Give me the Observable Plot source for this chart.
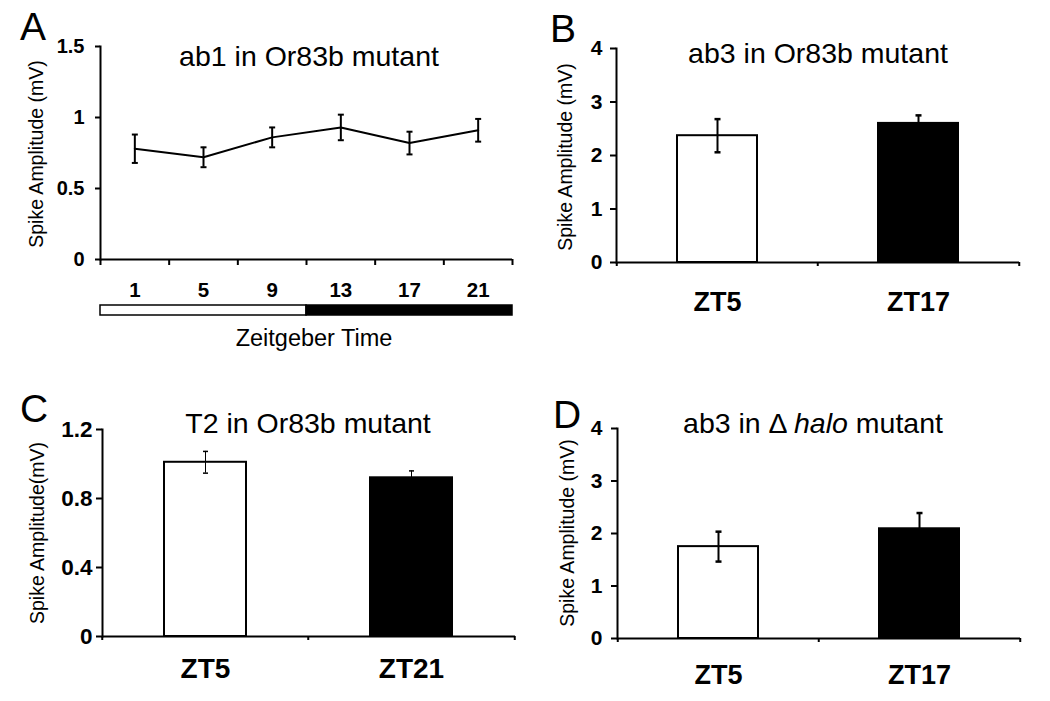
<!DOCTYPE html>
<html>
<head>
<meta charset="utf-8">
<script src="https://cdn.jsdelivr.net/npm/d3@7"></script>
<script src="https://cdn.jsdelivr.net/npm/@observablehq/plot@0.6"></script>
<style>
  html, body { margin: 0; padding: 0; background: #fff; }
  #page { position: relative; width: 1050px; height: 701px; overflow: hidden; background: #fff;
          font-family: "Liberation Sans", Arial, sans-serif; color: #000; }
  .abs { position: absolute; white-space: nowrap; line-height: 1; }
  .title { font-size: 28.5px; transform: translateX(-50%); }
  .letter { font-size: 39px; }
  .ylab { font-size: 19.5px; transform: translate(-50%, -50%) rotate(-90deg); }
  .xlab { font-size: 23.5px; transform: translateX(-50%); }
  .plot { position: absolute; }
</style>
</head>
<body>
<div id="page"></div>
<script>
// ---------------- DATA ----------------
// Panel A: ab1 in Or83b mutant (line with error bars)
const hoursA = [1, 5, 9, 13, 17, 21];
const ampA = [0.78, 0.72, 0.86, 0.93, 0.82, 0.91];
const errA = [0.10, 0.07, 0.07, 0.09, 0.08, 0.08];
const yTicksA = [0, 0.5, 1, 1.5];
const phaseNames = ["light", "dark"];
const phaseStart = [-1, 11];
const phaseEnd = [11, 23];

// Panel B: ab3 in Or83b mutant
const catsB = ["ZT5", "ZT17"];
const ampB = [2.37, 2.60];
const errB = [0.31, 0.15];
const yTicksB = [0, 1, 2, 3, 4];

// Panel C: T2 in Or83b mutant
const catsC = ["ZT5", "ZT21"];
const ampC = [1.01, 0.92];
const errC = [0.063, 0.04];
const yTicksC = [0, 0.4, 0.8, 1.2];

// Panel D: ab3 in Δ halo mutant
const catsD = ["ZT5", "ZT17"];
const ampD = [1.75, 2.09];
const errD = [0.285, 0.30];
const yTicksD = [0, 1, 2, 3, 4];

// ---------------- HELPERS ----------------
const FONT = '"Liberation Sans", Arial, sans-serif';
const page = document.getElementById("page");
const capSymbol = {
  draw(context, size) {
    const r = Math.sqrt(size / Math.PI);
    context.moveTo(-r, 0);
    context.lineTo(r, 0);
  }
};
function place(el, left, top) {
  el.classList.add("plot");
  el.style.left = left + "px";
  el.style.top = top + "px";
  page.appendChild(el);
}
function addText(cls, html, left, top) {
  const d = document.createElement("div");
  d.className = "abs " + cls;
  d.innerHTML = html;
  d.style.left = left + "px";
  d.style.top = top + "px";
  page.appendChild(d);
}
const fmt = d => `${d}`;

// ---------------- PANEL A ----------------
const dataA = hoursA.map((h, i) => ({h, v: ampA[i], lo: ampA[i] - errA[i], hi: ampA[i] + errA[i]}));
const stepA = hoursA[1] - hoursA[0];
const boundsA = hoursA.map(h => h - stepA / 2).concat([hoursA[hoursA.length - 1] + stepA / 2]);
const xDomA = [boundsA[0], boundsA[boundsA.length - 1]];

const plotA = Plot.plot({
  width: 520, height: 304,
  marginLeft: 100, marginRight: 8, marginTop: 46, marginBottom: 45,
  style: {fontFamily: FONT, color: "black", background: "transparent", overflow: "visible"},
  x: {domain: xDomA},
  y: {domain: [0, 1.5]},
  marks: [
    Plot.axisY({ticks: yTicksA, tickFormat: fmt, tickSize: 5, tickPadding: 11, fontSize: 20, fontWeight: "bold", strokeWidth: 2, label: null}),
    Plot.axisX({ticks: boundsA, tickFormat: () => "", tickSize: 6, strokeWidth: 2, label: null}),
    Plot.axisX({ticks: hoursA, tickFormat: fmt, tickSize: 0, tickPadding: 23, fontSize: 20.5, fontWeight: "bold", label: null}),
    Plot.frame({anchor: "left", strokeWidth: 2}),
    Plot.ruleY([0], {strokeWidth: 2}),
    Plot.line(dataA, {x: "h", y: "v", stroke: "black", strokeWidth: 2}),
    Plot.ruleX(dataA, {x: "h", y1: "lo", y2: "hi", stroke: "black", strokeWidth: 2}),
    Plot.dot(dataA, {x: "h", y: "lo", symbol: capSymbol, r: 3, fill: "none", stroke: "black", strokeWidth: 2}),
    Plot.dot(dataA, {x: "h", y: "hi", symbol: capSymbol, r: 3, fill: "none", stroke: "black", strokeWidth: 2})
  ]
});
place(plotA, 0, 0);

const phases = phaseNames.map((p, i) => ({phase: p, start: phaseStart[i], end: phaseEnd[i]}));
const plotLD = Plot.plot({
  width: 520, height: 12,
  marginLeft: 100, marginRight: 8, marginTop: 1, marginBottom: 1,
  style: {fontFamily: FONT, color: "black", background: "transparent", overflow: "visible"},
  x: {domain: xDomA, axis: null},
  color: {domain: phaseNames, range: ["white", "black"]},
  marks: [
    Plot.rect(phases, {x1: "start", x2: "end", fill: "phase", stroke: "black", strokeWidth: 1.5})
  ]
});
place(plotLD, 0, 304);

// ---------------- BAR PANELS ----------------
function barPanel({cats, amp, err, yTicks, yMax, width, height, ml, mr, mt, mb, tickPad, yFont, xFont, xPad, errW, capR, left, top}) {
  const data = cats.map((c, i) => ({c, v: amp[i], lo: amp[i] - err[i], hi: amp[i] + err[i]}));
  const step = (width - ml - mr) / cats.length;
  const p = Plot.plot({
    width, height, marginLeft: ml, marginRight: mr, marginTop: mt, marginBottom: mb,
    style: {fontFamily: FONT, color: "black", background: "transparent", overflow: "visible"},
    x: {domain: cats, paddingInner: 0.6, paddingOuter: 0.3},
    y: {domain: [0, yMax]},
    color: {domain: cats, range: ["white", "black"]},
    marks: [
      Plot.axisY({ticks: yTicks, tickFormat: fmt, tickSize: 6, tickPadding: tickPad, fontSize: yFont, fontWeight: "bold", strokeWidth: 2, label: null}),
      Plot.axisX({ticks: cats, tickFormat: () => "", tickSize: 4, strokeWidth: 2, dx: -step / 2, label: null}),
      Plot.axisX({ticks: [cats[cats.length - 1]], tickFormat: () => "", tickSize: 4, strokeWidth: 2, dx: step / 2, label: null}),
      Plot.axisX({ticks: cats, tickSize: 0, tickPadding: xPad, fontSize: xFont, fontWeight: "bold", label: null}),
      Plot.barY(data, {x: "c", y: "v", fill: "c", stroke: "black", strokeWidth: 2}),
      Plot.ruleX(data, {x: "c", y1: "lo", y2: "hi", stroke: "black", strokeWidth: errW}),
      Plot.dot(data, {x: "c", y: "lo", symbol: capSymbol, r: capR, fill: "none", stroke: "black", strokeWidth: errW + 0.5}),
      Plot.dot(data, {x: "c", y: "hi", symbol: capSymbol, r: capR, fill: "none", stroke: "black", strokeWidth: errW + 0.5}),
      Plot.frame({anchor: "left", strokeWidth: 2}),
      Plot.ruleY([0], {strokeWidth: 2})
    ]
  });
  place(p, left, top);
}

barPanel({cats: catsB, amp: ampB, err: errB, yTicks: yTicksB, yMax: 4,
  width: 520, height: 322, ml: 96, mr: 21, mt: 48, mb: 60, tickPad: 8, yFont: 21, xFont: 27, xPad: 29,
  errW: 2, capR: 3, left: 520, top: 0});

barPanel({cats: catsC, amp: ampC, err: errC, yTicks: yTicksC, yMax: 1.2,
  width: 520, height: 336, ml: 102, mr: 5, mt: 69, mb: 60, tickPad: 4, yFont: 22.5, xFont: 28, xPad: 22,
  errW: 1, capR: 2.5, left: 0, top: 360});

barPanel({cats: catsD, amp: ampD, err: errD, yTicks: yTicksD, yMax: 4,
  width: 520, height: 333, ml: 97, mr: 20, mt: 68, mb: 55, tickPad: 9, yFont: 21, xFont: 27, xPad: 26,
  errW: 2, capR: 3, left: 520, top: 360});

// ---------------- TEXT ----------------
addText("letter", "A", 20, 7);
addText("letter", "B", 550, 9);
addText("letter", "C", 20, 389);
addText("letter", "D", 553, 395);

addText("title", "ab1 in Or83b mutant", 309, 42);
addText("title", "ab3 in Or83b mutant", 818, 38.5);
addText("title", "T2 in Or83b mutant", 308, 408.5);
addText("title", "ab3 in &Delta; <i>halo</i> mutant", 813, 408.5);

addText("ylab", "Spike Amplitude (mV)", 36.5, 154);
addText("ylab", "Spike Amplitude (mV)", 566, 157);
addText("ylab", "Spike Amplitude(mV)", 37.5, 533);
addText("ylab", "Spike Amplitude (mV)", 567.5, 533);

addText("xlab", "Zeitgeber Time", 314, 326.5);
</script>
</body>
</html>
